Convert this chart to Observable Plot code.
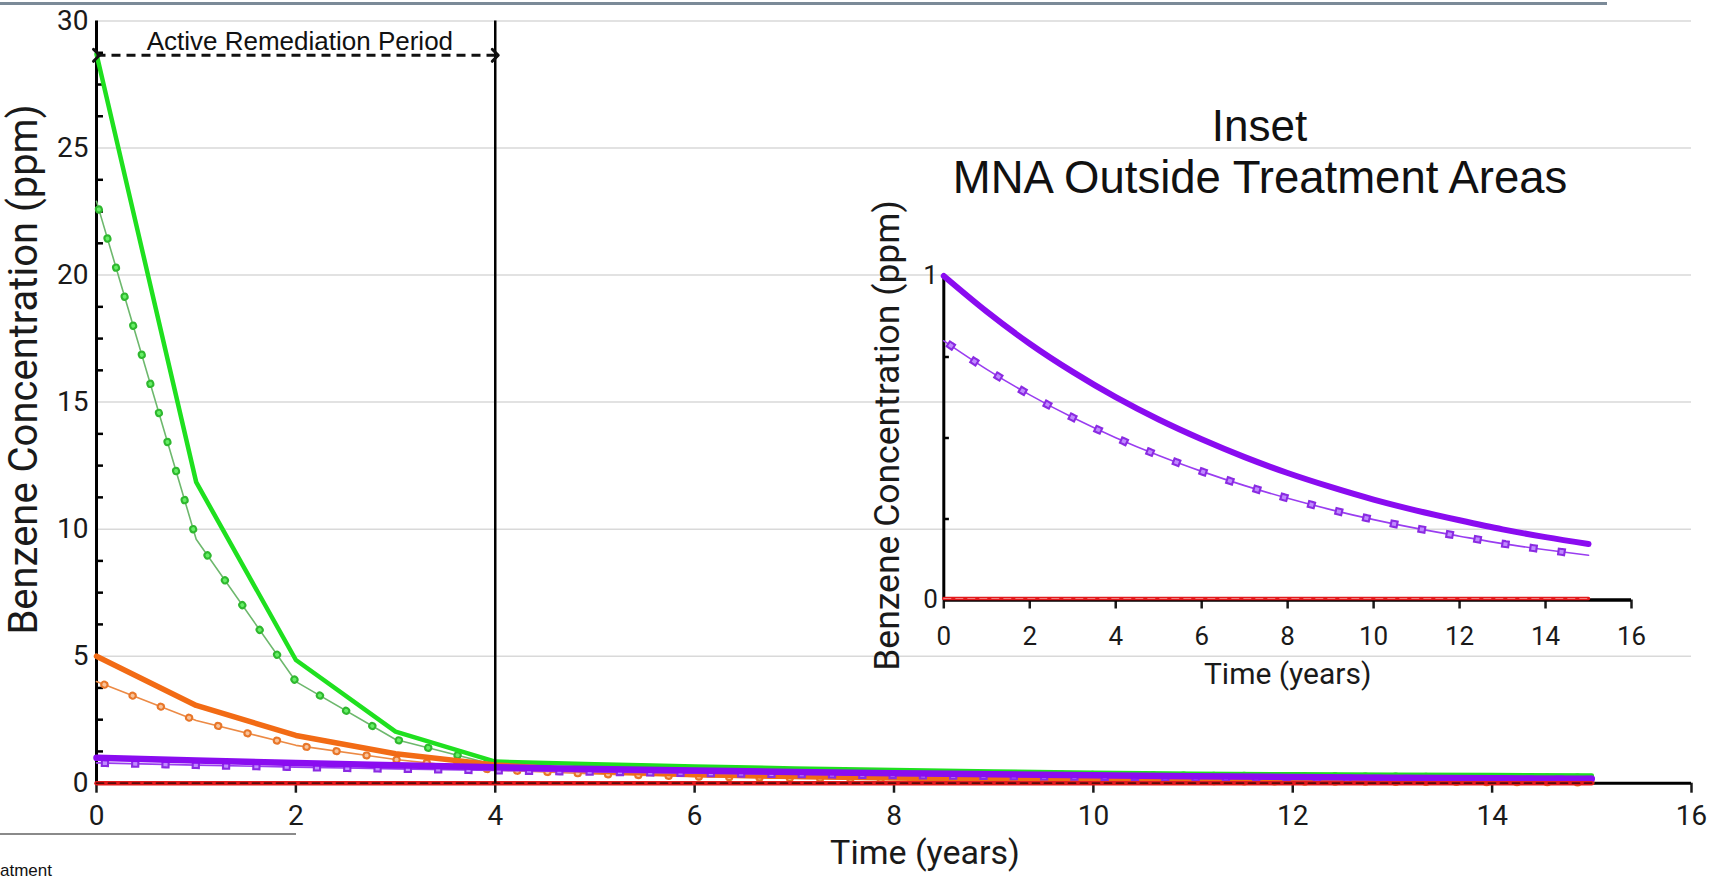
<!DOCTYPE html>
<html>
<head>
<meta charset="utf-8">
<script src="https://cdn.jsdelivr.net/npm/d3@7"></script>
<script src="https://cdn.jsdelivr.net/npm/@observablehq/plot@0.6"></script>
<style>
  html, body { margin: 0; padding: 0; background: #fff; }
  #wrap { position: relative; width: 1713px; height: 882px; overflow: hidden; background: #fff; }
  #main { position: absolute; left: 0; top: 0; }
  #inset { position: absolute; left: 800px; top: 60px; }
  .topline { position: absolute; left: 0; top: 2px; width: 1607px; height: 3px; background: #7b8a98; }
  .botline { position: absolute; left: 0; top: 833px; width: 296px; height: 2px; background: #8a8a8a; }
  .cut { position: absolute; left: 0; top: 861px; font: 17px/19px "Liberation Sans", Arial, sans-serif; color: #111; }
</style>
</head>
<body>
<div id="wrap">
  <div class="topline"></div>
  <div id="main"></div>
  <div id="inset"></div>
  <div class="botline"></div>
  <div class="cut">atment</div>
</div>
<script>
// ---- data ----
const years = [0, 1, 2, 3, 4, 5, 6, 7, 8, 9, 10, 11, 12, 13, 14, 15];
const greenSolid   = [28.7, 11.85, 4.85, 2.03, 0.85, 0.75, 0.66, 0.58, 0.52, 0.46, 0.41, 0.37, 0.35, 0.33, 0.32, 0.30];
const greenDotted  = [22.9, 9.6, 4.0, 1.72, 0.72, 0.62, 0.54, 0.47, 0.42, 0.37, 0.33, 0.30, 0.28, 0.26, 0.24, 0.22];
const orangeSolid  = [5.0, 3.06, 1.88, 1.16, 0.72, 0.48, 0.34, 0.26, 0.20, 0.16, 0.13, 0.10, 0.08, 0.06, 0.05, 0.04];
const orangeDotted = [4.0, 2.47, 1.49, 0.93, 0.52, 0.36, 0.26, 0.20, 0.16, 0.13, 0.10, 0.08, 0.06, 0.05, 0.04, 0.03];
const purpleSolid  = [1.0, 0.89, 0.791, 0.704, 0.626, 0.557, 0.496, 0.441, 0.392, 0.349, 0.31, 0.276, 0.246, 0.218, 0.194, 0.173];
const purpleDotted = [0.8, 0.712, 0.633, 0.563, 0.501, 0.446, 0.397, 0.353, 0.314, 0.279, 0.248, 0.221, 0.197, 0.174, 0.155, 0.138];
const redZero      = [0, 0, 0, 0, 0, 0, 0, 0, 0, 0, 0, 0, 0, 0, 0, 0];

const xTicks = [0, 2, 4, 6, 8, 10, 12, 14, 16];
const yTicksMain = [0, 5, 10, 15, 20, 25, 30];
const yMinorMain = [1.25, 2.5, 3.75, 6.25, 7.5, 8.75, 11.25, 12.5, 13.75, 16.25, 17.5, 18.75, 21.25, 22.5, 23.75, 26.25, 27.5, 28.75];
const yTicksInset = [0, 1];
const yMinorInset = [0.25, 0.5, 0.75];
const remediation = [{start: 0, end: 4, level: 28.65, label: "Active Remediation Period"}];
const yTitle = ["Benzene Concentration (ppm)"];
const xTitle = ["Time (years)"];
const insetTitle1 = ["Inset"];
const insetTitle2 = ["MNA Outside Treatment Areas"];

const rows = vals => years.map((t, i) => ({t, v: vals[i]}));

function plainLine(vals, stroke, w, extra = {}) {
  return Plot.line(rows(vals), {x: "t", y: "v", stroke, strokeWidth: w, strokeLinejoin: "round", ...extra});
}
function markerLines(vals, line, outer, inner, gap, cap, extra = {}) {
  const d = rows(vals);
  return [
    Plot.line(d, {x: "t", y: "v", stroke: line, strokeWidth: 1.6, ...extra}),
    Plot.line(d, {x: "t", y: "v", stroke: outer, strokeWidth: 8, strokeDasharray: `0.3,${gap}`, strokeDashoffset: gap - 8, strokeLinecap: cap, ...extra}),
    Plot.line(d, {x: "t", y: "v", stroke: inner, strokeWidth: 3.8, strokeDasharray: `0.3,${gap}`, strokeDashoffset: gap - 8, strokeLinecap: cap, ...extra})
  ];
}

// ---- main chart ----
const main = Plot.plot({
  width: 1713, height: 882,
  marginLeft: 96, marginRight: 22, marginTop: 20.5, marginBottom: 99.3,
  x: {domain: [0, 16]},
  y: {domain: [0, 30]},
  style: {fontFamily: "Roboto", fontSize: "28px", color: "#1a1a1a", background: "none", overflow: "visible"},
  marks: [
    Plot.gridY(yTicksMain, {stroke: "#d9d9d9", strokeOpacity: 1, strokeWidth: 1.5}),
    Plot.axisY(yTicksMain, {tickSize: 0, tickPadding: 8, fontSize: 28, label: null}),
    Plot.axisX(xTicks, {tickSize: 10, tickPadding: 12, strokeWidth: 2.5, fontSize: 28, label: null}),
    Plot.ruleY(yMinorMain, {x1: 0, x2: 0.07, stroke: "#000", strokeWidth: 2.5}),
    Plot.ruleY([0], {stroke: "#000", strokeWidth: 3}),
    Plot.ruleX([0], {stroke: "#000", strokeWidth: 3}),
    ...markerLines(greenDotted, "#6db86d", "#2fb82f", "#66ee66", 30, "round"),
    plainLine(greenSolid, "#1fe01f", 4.5),
    ...markerLines(orangeDotted, "#ec8a45", "#e8772a", "#f9c39a", 30, "round"),
    plainLine(orangeSolid, "#f26b15", 5.5),
    ...markerLines(purpleDotted, "#9a3df0", "#8a2be2", "#c08aff", 30, "square", {curve: "monotone-x"}),
    plainLine(purpleSolid, "#8a0cf0", 6.5, {curve: "monotone-x"}),
    plainLine(redZero, "#e31a1c", 4.5),
    plainLine(redZero, "#5a0a0a", 1.8, {strokeDasharray: "7,5"}),
    Plot.ruleX([remediation[0].end], {stroke: "#000", strokeWidth: 2.5}),
    Plot.link(remediation, {x1: "start", x2: "end", y1: "level", y2: "level", stroke: "#111", strokeWidth: 3, strokeDasharray: "9,6", markerStart: "arrow", markerEnd: "arrow"}),
    Plot.text(remediation, {x: d => (d.start + d.end) / 2, y: "level", text: "label", dx: 4, dy: -14, lineAnchor: "middle", fontFamily: "Liberation Sans", fontSize: 26, fill: "#111"}),
    Plot.text(yTitle, {frameAnchor: "top-left", dx: -72, dy: 348.5, rotate: -90, fontSize: 40, lineAnchor: "middle", textAnchor: "middle", fill: "#1a1a1a"}),
    Plot.text(xTitle, {frameAnchor: "bottom", dx: 31, dy: 70, fontSize: 34, lineAnchor: "middle", fill: "#1a1a1a"})
  ]
});
document.getElementById("main").appendChild(main);

// ---- inset chart ----
const inset = Plot.plot({
  width: 880, height: 660,
  marginLeft: 143.3, marginRight: 49, marginTop: 215.5, marginBottom: 120.5,
  x: {domain: [0, 16]},
  y: {domain: [0, 1]},
  style: {fontFamily: "Roboto", fontSize: "26px", color: "#1a1a1a", background: "none", overflow: "visible"},
  marks: [
    Plot.axisY(yTicksInset, {tickSize: 0, tickPadding: 6, fontSize: 26, tickFormat: d => String(d), label: null}),
    Plot.axisX(xTicks, {tickSize: 9, tickPadding: 18, strokeWidth: 2.5, fontSize: 26, label: null}),
    Plot.ruleY(yMinorInset, {x1: 0, x2: 0.13, stroke: "#000", strokeWidth: 2.5}),
    Plot.ruleY([0], {stroke: "#000", strokeWidth: 3.5}),
    Plot.ruleX([0], {stroke: "#000", strokeWidth: 3}),
    ...markerLines(purpleDotted, "#9a3df0", "#8a2be2", "#c08aff", 28, "square", {curve: "monotone-x"}),
    plainLine(purpleSolid, "#8a0cf0", 6, {curve: "monotone-x"}),
    plainLine(redZero, "#e31a1c", 3.5, {dy: -1.5}),
    plainLine(redZero, "#f08080", 1.2, {dy: -1.5, strokeDasharray: "7,5"}),
    Plot.text(yTitle, {frameAnchor: "top-left", dx: -55.7, dy: 159.5, rotate: -90, fontSize: 35.5, lineAnchor: "middle", textAnchor: "middle", fill: "#1a1a1a"}),
    Plot.text(xTitle, {frameAnchor: "bottom", dy: 74.5, fontSize: 30, lineAnchor: "middle", fill: "#1a1a1a"}),
    Plot.text(insetTitle1, {frameAnchor: "top-left", dx: 315.7, dy: -149.5, fontSize: 44, fontFamily: "Liberation Sans", lineAnchor: "middle", textAnchor: "middle", fill: "#111"}),
    Plot.text(insetTitle2, {frameAnchor: "top-left", dx: 316.3, dy: -97.5, fontSize: 45.5, fontFamily: "Liberation Sans", lineAnchor: "middle", textAnchor: "middle", fill: "#111"})
  ]
});
document.getElementById("inset").appendChild(inset);
</script>
</body>
</html>
